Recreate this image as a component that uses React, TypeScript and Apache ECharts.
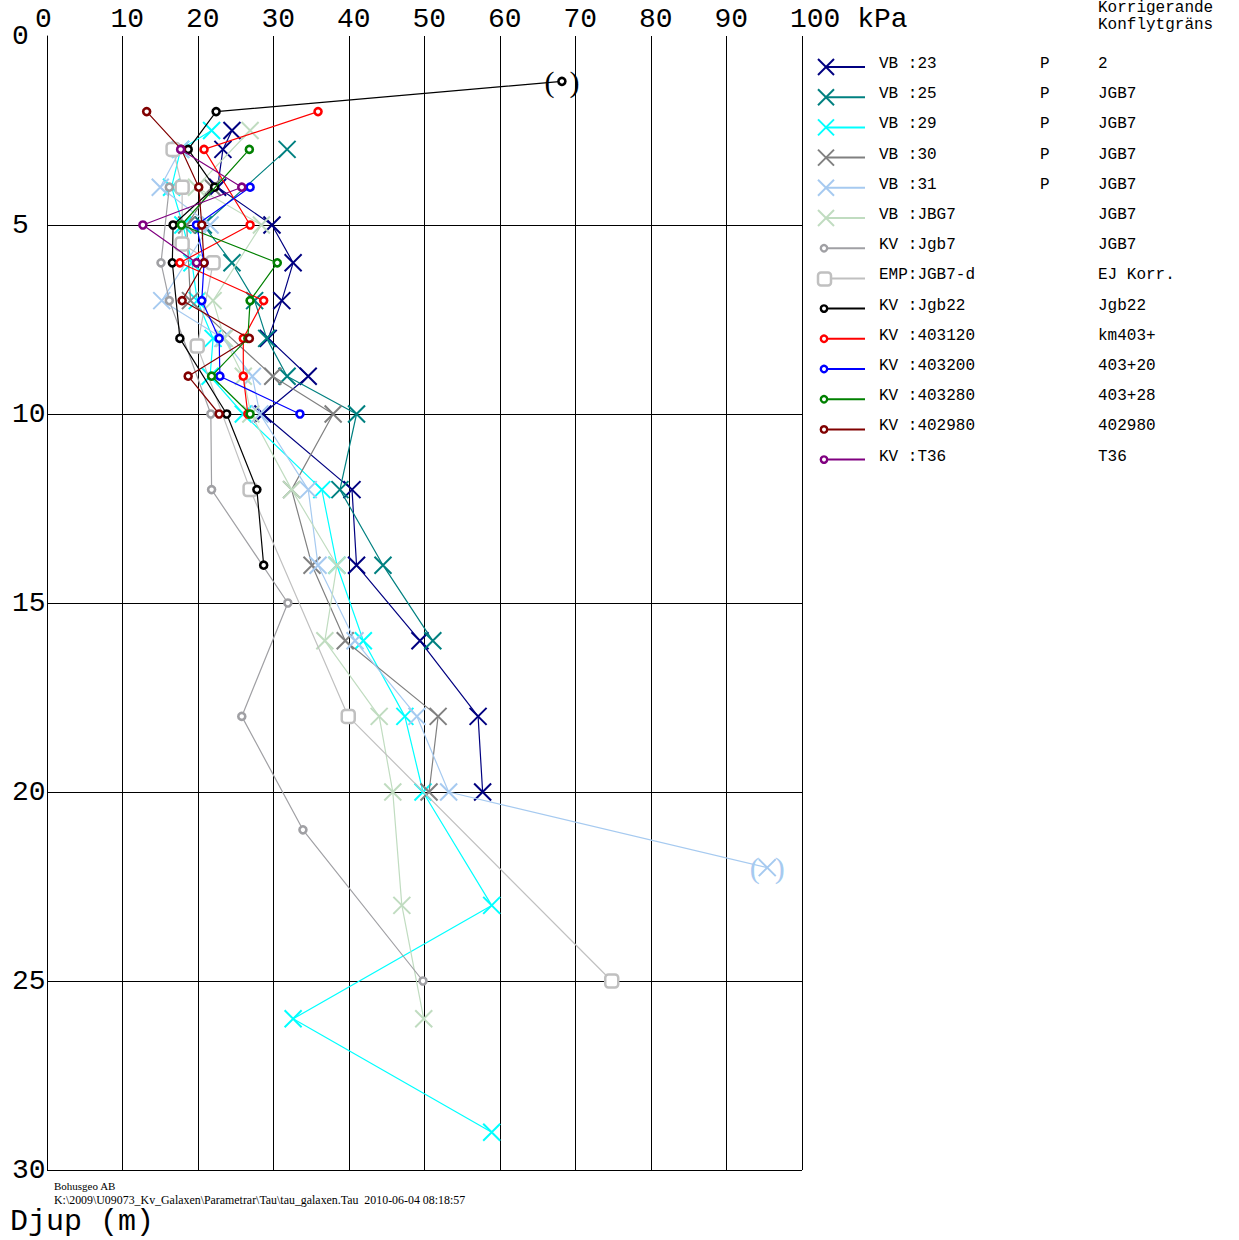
import React, { useEffect, useRef } from 'react';
import * as echarts from 'echarts';

// ---------- data: [kPa, depth m] ----------
const vb23 = [[24.5, 2.5], [23.3, 3], [22.6, 4], [29.8, 5], [32.6, 6], [31.1, 7], [29.3, 8], [34.6, 9], [28.6, 10], [40.4, 12], [41, 14], [49.4, 16], [57.1, 18], [57.7, 20]];
const vb25 = [[31.8, 3], [20.7, 5], [24.5, 6], [27.5, 7], [29.1, 8], [31.8, 9], [41, 10], [38.8, 12], [44.5, 14], [51.1, 16]];
const vb29 = [[21.8, 2.5], [17.7, 3], [16.5, 4], [18, 5], [19.2, 6], [19.9, 7], [22, 8], [21.6, 9], [26, 10], [36.4, 12], [38.4, 14], [41.9, 16], [47.4, 18], [49.8, 20], [58.9, 23], [32.6, 26], [58.9, 29]];
const vb30 = [[21.9, 4], [18.5, 5], [19, 7], [29.9, 9], [37.9, 10], [32.4, 12], [35.1, 14], [39.5, 16], [51.8, 18], [50.6, 20]];
const vb31 = [[17.7, 3], [15, 4], [21.6, 5], [15.2, 7], [23.3, 8], [27.2, 9], [28.2, 10], [34.6, 12], [35.9, 14], [40.8, 16], [49, 18], [53.2, 20], [95.4, 22]];
const vbJbg7 = [[26.9, 2.5], [19.8, 4], [28.4, 5], [22, 7], [23.5, 8], [26, 9], [27, 10], [32.4, 12], [38.4, 14], [36.8, 16], [44, 18], [45.8, 20], [47, 23], [49.9, 26]];
const kvJgb7 = [[16.2, 4], [15.1, 6], [16.2, 7], [21.7, 10], [21.8, 12], [31.9, 15], [25.8, 18], [33.9, 21], [49.8, 25]];
const empJgb7d = [[16.7, 3], [17.9, 4], [17.9, 5.5], [22, 6], [19.9, 8.2], [26.9, 12], [39.9, 18], [74.8, 25]];
const kvJgb22 = [[68.2, 1.2], [22.4, 2], [18.7, 3], [22.2, 4], [16.7, 5], [16.6, 6], [17.6, 8], [23.8, 10], [27.8, 12], [28.7, 14]];
const kv403120 = [[35.9, 2], [20.8, 3], [26.9, 5], [17.6, 6], [28.7, 7], [26, 8], [26, 9], [26.6, 10]];
const kv403200 = [[26.9, 4], [19.8, 5], [20.8, 6], [20.5, 7], [22.8, 8], [22.9, 9], [33.5, 10]];
const kv403280 = [[26.8, 3], [17.8, 5], [30.5, 6], [26.9, 7], [26.6, 8], [21.8, 9], [26.9, 10]];
const kv402980 = [[13.2, 2], [17.8, 3], [20.1, 4], [20.5, 5], [20.8, 6], [17.9, 7], [26.8, 8], [18.7, 9], [22.8, 10]];
const kvT36 = [[17.7, 3], [25.8, 4], [12.7, 5], [19.8, 6]];

const seriesNames = ['VB :23', 'VB :25', 'VB :29', 'VB :30', 'VB :31', 'VB :JBG7', 'KV :Jgb7', 'EMP:JGB7-d', 'KV :Jgb22', 'KV :403120', 'KV :403200', 'KV :403280', 'KV :402980', 'KV :T36'];
const seriesData = [vb23, vb25, vb29, vb30, vb31, vbJbg7, kvJgb7, empJgb7d, kvJgb22, kv403120, kv403200, kv403280, kv402980, kvT36];
const columnP = ['P', 'P', 'P', 'P', 'P', '', '', '', '', '', '', '', '', ''];
const columnLabel = ['2', 'JGB7', 'JGB7', 'JGB7', 'JGB7', 'JGB7', 'JGB7', 'EJ Korr.', 'Jgb22', 'km403+', '403+20', '403+28', '402980', 'T36'];
const markerKinds = ['x', 'x', 'x', 'x', 'x', 'x', 'dot', 'square', 'dot', 'dot', 'dot', 'dot', 'dot', 'dot'];
const colors = ['#000080', '#008080', '#00ffff', '#808080', '#a6caf0', '#c0dcc0', '#a0a0a4', '#c0c0c0', '#000000', '#ff0000', '#0000ff', '#008000', '#800000', '#800080'];
// points shown in brackets: [series index, point index]
const bracketedPoints = [[8, 0], [4, 12]];

const xTicks = { min: 0, max: 100, interval: 10 };
const yTicks = { min: 0, max: 30, interval: 5 };

const MONO = '"Liberation Mono", "DejaVu Sans Mono", monospace';
const X_PATH = 'path://M0,0L10,10M10,0L0,10';

export default function App() {
  const ref = useRef<HTMLDivElement>(null);
  useEffect(() => {
    if (!ref.current) return;
    const chart = echarts.init(ref.current, null, { renderer: 'svg' });

    const series = seriesData.map((pts, si) => {
      const c = colors[si];
      const kind = markerKinds[si];
      const data = pts.map((p, pi) => {
        const br = bracketedPoints.some((b) => b[0] === si && b[1] === pi);
        if (!br) return p;
        return {
          value: p,
          label: {
            show: true,
            position: 'inside',
            formatter: '(  )',
            fontFamily: '"Liberation Serif", serif',
            fontSize: 30,
            color: c,
          },
        };
      });
      let symbol: any = 'circle';
      let symbolSize: any = 7;
      let itemStyle: any = { color: '#ffffff', borderColor: c, borderWidth: 2.6 };
      if (kind === 'x') {
        symbol = X_PATH;
        symbolSize = 17;
        itemStyle = { color: c, borderColor: c, borderWidth: 2 };
      } else if (kind === 'square') {
        symbol = 'roundRect';
        symbolSize = 13;
        itemStyle = { color: '#ffffff', borderColor: c, borderWidth: 2.5 };
      }
      return {
        type: 'line',
        name: seriesNames[si],
        data,
        symbol,
        symbolSize,
        showSymbol: true,
        showAllSymbol: true,
        lineStyle: { color: c, width: 1.2 },
        itemStyle,
        emphasis: { disabled: true },
        z: 2 + si,
      };
    });

    // legend drawn as graphic
    const legendEls: any[] = [];
    const rowY0 = 67;
    const rowStep = 30.2;
    const txt = (x: number, y: number, text: string, size = 16, family = MONO) => ({
      type: 'text', x, y,
      style: { text, font: `${size}px ${family}`, fill: '#000', verticalAlign: 'middle', align: 'left' },
    });
    seriesNames.forEach((name, i) => {
      const y = rowY0 + i * rowStep;
      const c = colors[i];
      legendEls.push({ type: 'line', shape: { x1: 825, y1: y, x2: 865, y2: y }, style: { stroke: c, lineWidth: 2 } });
      const kind = markerKinds[i];
      if (kind === 'x') {
        legendEls.push({ type: 'line', shape: { x1: 818, y1: y - 8, x2: 834, y2: y + 8 }, style: { stroke: c, lineWidth: 2 } });
        legendEls.push({ type: 'line', shape: { x1: 834, y1: y - 8, x2: 818, y2: y + 8 }, style: { stroke: c, lineWidth: 2 } });
      } else if (kind === 'square') {
        legendEls.push({ type: 'rect', shape: { x: 818, y: y - 6, width: 13, height: 13, r: 3 }, style: { fill: '#fff', stroke: c, lineWidth: 2.5 } });
      } else {
        legendEls.push({ type: 'circle', shape: { cx: 824, cy: y, r: 3.2 }, style: { fill: '#fff', stroke: c, lineWidth: 2.4 } });
      }
      const ty = y - 3;
      legendEls.push(txt(879, ty, name));
      if (columnP[i]) legendEls.push(txt(1040, ty, columnP[i]));
      legendEls.push(txt(1098, ty, columnLabel[i]));
    });
    legendEls.push(txt(1098, 8, 'Korrigerande'));
    legendEls.push(txt(1098, 25, 'Konflytgräns'));
    legendEls.push(txt(10, 1222, 'Djup (m)', 30));
    legendEls.push(txt(54, 1186, 'Bohusgeo AB', 11, '"Liberation Serif", serif'));
    legendEls.push(txt(54, 1200, 'K:\\2009\\U09073_Kv_Galaxen\\Parametrar\\Tau\\tau_galaxen.Tau  2010-06-04 08:18:57', 11.9, '"Liberation Serif", serif'));

    const ySplitColors = ['rgba(0,0,0,0)', '#000', '#000', '#000', '#000', '#000', '#000'];

    chart.setOption({
      animation: false,
      backgroundColor: '#ffffff',
      grid: { left: 47, top: 36, width: 755, height: 1134, containLabel: false },
      xAxis: {
        type: 'value',
        position: 'top',
        min: xTicks.min,
        max: xTicks.max,
        interval: xTicks.interval,
        axisLine: { show: false },
        axisTick: { show: false },
        splitLine: { show: true, lineStyle: { color: '#000', width: 1 } },
        axisLabel: {
          fontFamily: MONO,
          fontSize: 28,
          color: '#000',
          align: 'left',
          padding: [0, 0, 0, -12],
          margin: 3,
          showMinLabel: true,
          showMaxLabel: true,
          formatter: (v: number) => (v === 100 ? '100 kPa' : String(v)),
        },
      },
      yAxis: {
        type: 'value',
        inverse: true,
        min: yTicks.min,
        max: yTicks.max,
        interval: yTicks.interval,
        axisLine: { show: true, lineStyle: { color: '#000', width: 1 } },
        axisTick: { show: false },
        splitLine: { show: true, lineStyle: { color: ySplitColors, width: 1 } },
        axisLabel: {
          fontFamily: MONO,
          fontSize: 28,
          color: '#000',
          align: 'left',
          margin: 35,
          showMinLabel: true,
          showMaxLabel: true,
        },
      },
      tooltip: { show: false },
      series,
      graphic: legendEls,
    });
    return () => chart.dispose();
  }, []);
  return <div ref={ref} style={{ position: 'absolute', left: 0, top: 0, width: 1239, height: 1240 }} />;
}
